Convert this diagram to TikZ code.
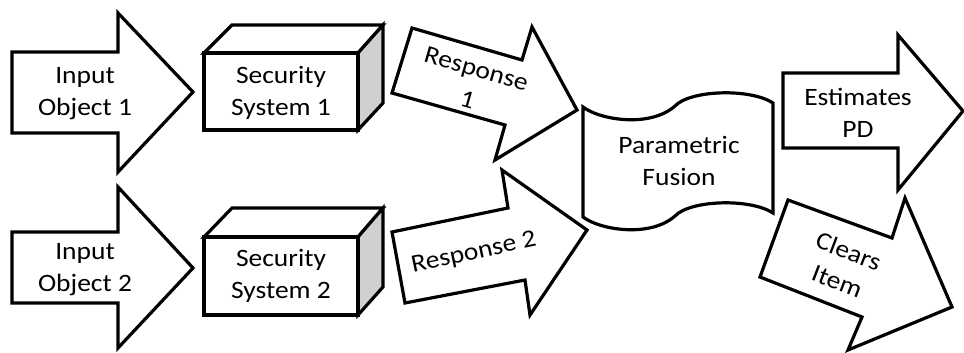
\documentclass[tikz,border=0pt]{standalone}
\usepackage{fontspec}
\setmainfont{Carlito}[FakeStretch=1.1]
\begin{document}
\begin{tikzpicture}[x=1pt,y=-1pt,
  shapeline/.style={draw=black,line width=3.2pt,line join=miter,fill=white},
  sideface/.style={draw=black,line width=3.2pt,line join=miter,fill=sidegray},
  label/.style={align=center,font=\fontsize{25}{32}\selectfont,inner sep=0pt}]
\definecolor{sidegray}{HTML}{D0D0D0}
\useasboundingbox (0,0) rectangle (964,353);

% input arrows
\draw[shapeline] (12,52) -- (118,52) -- (118,13) -- (193,92) -- (118,172) -- (118,133) -- (12,133) -- cycle;
\draw[shapeline] (12,232) -- (118,232) -- (118,187) -- (193,268) -- (118,348) -- (118,303) -- (12,303) -- cycle;
\node[label] (in1) at (85,94) {Input\\Object 1};
\node[label] (in2) at (85,270) {Input\\Object 2};

% security system boxes
\draw[shapeline] (204,53) -- (232,25) -- (383,25) -- (358,53) -- cycle;
\draw[sideface] (358,53) -- (383,25) -- (383,103) -- (358,130) -- cycle;
\draw[shapeline] (204,53) rectangle (358,130);
\node[label] (sys1) at (281,93) {Security\\System 1};

\draw[shapeline] (204,237) -- (232,208) -- (383,208) -- (358,237) -- cycle;
\draw[sideface] (358,237) -- (383,208) -- (383,287) -- (358,315) -- cycle;
\draw[shapeline] (204,237) rectangle (358,315);
\node[label] (sys2) at (281,276) {Security\\System 2};

% response arrows
\draw[shapeline] (412,28) -- (522,60) -- (532,27) -- (577,110) -- (495,160) -- (505,125) -- (392,93) -- cycle;
\node[label,rotate=-16] (resp1) at (472,84) {Response\\1};
\draw[shapeline] (392,232) -- (508,208) -- (502,170) -- (587,230) -- (530,315) -- (525,280) -- (405,303) -- cycle;
\node[label,rotate=12] (resp2) at (474,253) {Response 2};

% fusion tape
\draw[shapeline] (583,107) .. controls (600,120) and (650,128) .. (675,106)
  .. controls (690,90) and (750,88) .. (773,103) -- (773,213)
  .. controls (750,198) and (690,200) .. (675,216)
  .. controls (650,238) and (600,230) .. (583,217) -- cycle;
\node[label] (fusion) at (679,161) {Parametric\\Fusion};

% output arrows
\draw[shapeline] (783,73) -- (898,73) -- (898,35) -- (963,111) -- (898,190) -- (898,148) -- (783,148) -- cycle;
\node[label] (est) at (858,113) {Estimates\\PD};
\draw[shapeline] (788,200) -- (892,238) -- (905,198) -- (952,307) -- (848,350) -- (862,317) -- (760,277) -- cycle;
\node[label,rotate=-21] (clears) at (843,266) {Clears\\Item};
\end{tikzpicture}
\end{document}
